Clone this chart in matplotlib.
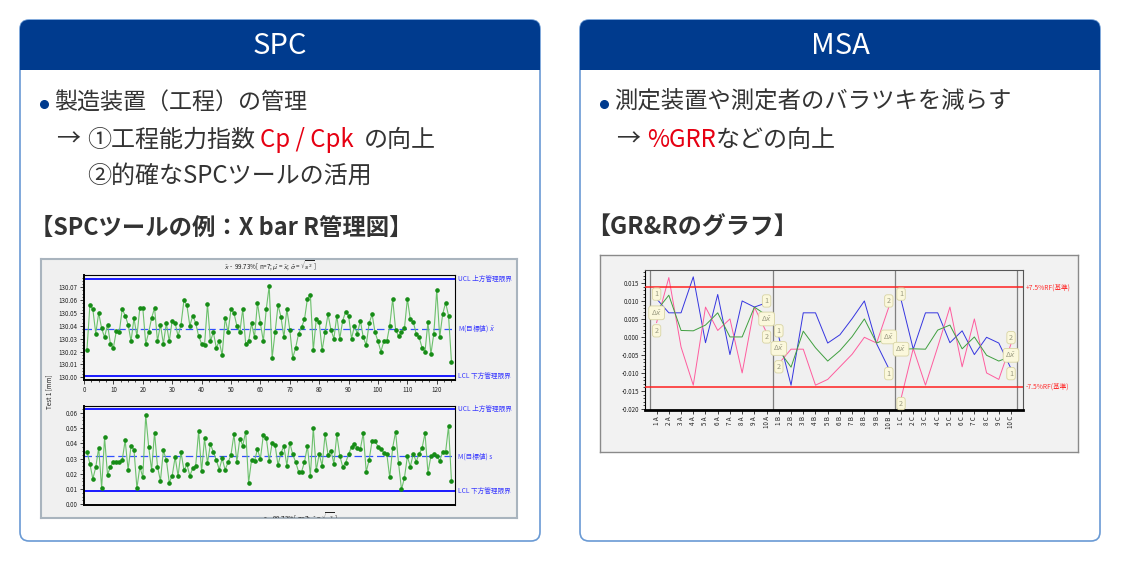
import numpy as np
import matplotlib
matplotlib.use('Agg')
import matplotlib.pyplot as plt
from matplotlib.patches import FancyBboxPatch, Rectangle
from matplotlib.ticker import MultipleLocator, FormatStrFormatter

plt.rcParams['font.family'] = ['Noto Sans CJK JP', 'DejaVu Sans']

W, H = 1121, 561

# --- X bar (上段) と s (下段) の値 ---
xbar = [130.021, 130.056, 130.053, 130.034, 130.050, 130.038, 130.031, 130.041, 130.026, 130.023,
        130.036, 130.035, 130.053, 130.048, 130.041, 130.028, 130.046, 130.032, 130.054, 130.054,
        130.026, 130.035, 130.046, 130.054, 130.028, 130.041, 130.026, 130.042, 130.028, 130.044,
        130.042, 130.032, 130.041, 130.060, 130.056, 130.040, 130.048, 130.042, 130.032, 130.026,
        130.025, 130.057, 130.028, 130.035, 130.023, 130.028, 130.017, 130.046, 130.035, 130.053,
        130.050, 130.040, 130.035, 130.053, 130.026, 130.028, 130.042, 130.031, 130.058, 130.042,
        130.028, 130.053, 130.071, 130.015, 130.035, 130.056, 130.047, 130.031, 130.053, 130.037,
        130.015, 130.023, 130.034, 130.039, 130.045, 130.061, 130.064, 130.021, 130.045, 130.043,
        130.021, 130.035, 130.049, 130.037, 130.030, 130.048, 130.030, 130.044, 130.051, 130.048,
        130.030, 130.040, 130.034, 130.044, 130.031, 130.025, 130.042, 130.049, 130.035, 130.028,
        130.020, 130.028, 130.028, 130.040, 130.061, 130.037, 130.032, 130.035, 130.038, 130.061,
        130.045, 130.043, 130.034, 130.031, 130.023, 130.020, 130.043, 130.018, 130.034, 130.068,
        130.031, 130.049, 130.058, 130.048, 130.012]
s_vals = [0.0346, 0.0267, 0.0166, 0.0243, 0.0370, 0.0105, 0.0439, 0.0194, 0.0247, 0.0280,
          0.0277, 0.0275, 0.0290, 0.0419, 0.0228, 0.0381, 0.0359, 0.0105, 0.0247, 0.0176,
          0.0585, 0.0378, 0.0224, 0.0471, 0.0247, 0.0153, 0.0353, 0.0292, 0.0142, 0.0187,
          0.0310, 0.0185, 0.0344, 0.0222, 0.0262, 0.0187, 0.0237, 0.0254, 0.0482, 0.0215,
          0.0432, 0.0271, 0.0394, 0.0344, 0.0290, 0.0228, 0.0301, 0.0226, 0.0275, 0.0325,
          0.0458, 0.0280, 0.0430, 0.0385, 0.0477, 0.0142, 0.0292, 0.0284, 0.0361, 0.0297,
          0.0454, 0.0437, 0.0284, 0.0400, 0.0387, 0.0256, 0.0338, 0.0381, 0.0254, 0.0404,
          0.0327, 0.0277, 0.0213, 0.0213, 0.0277, 0.0383, 0.0187, 0.0503, 0.0222, 0.0329,
          0.0252, 0.0458, 0.0325, 0.0351, 0.0267, 0.0458, 0.0320, 0.0245, 0.0273, 0.0327,
          0.0378, 0.0398, 0.0370, 0.0363, 0.0467, 0.0213, 0.0292, 0.0417, 0.0417, 0.0378,
          0.0363, 0.0338, 0.0331, 0.0176, 0.0372, 0.0475, 0.0269, 0.0097, 0.0174, 0.0314,
          0.0247, 0.0331, 0.0280, 0.0331, 0.0368, 0.0467, 0.0206, 0.0316, 0.0327, 0.0318,
          0.0284, 0.0344, 0.0342, 0.0512, 0.0153]
samples = np.arange(1, len(xbar) + 1)
x_ucl, x_cl, x_lcl = 130.0762, 130.0379, 130.0010
s_ucl, s_cl, s_lcl = 0.0624, 0.0314, 0.0088

# --- GR&R ---
parts = [f'{i} {g}' for g in 'ABC' for i in range(1, 11)]
op1 = [0.0106, 0.0067, 0.0067, 0.0167, -0.0016, 0.0118, -0.0049, 0.0100, 0.0083, 0.0095,
       0.0000, -0.0134, 0.0067, 0.0067, -0.0017, 0.0006, 0.0051, 0.0100, -0.0019, -0.0088,
       0.0104, -0.0034, 0.0067, 0.0067, -0.0016, 0.0017, -0.0049, -0.0001, -0.0017, -0.0088]
op2 = [0.0040, 0.0165, -0.0028, -0.0134, 0.0083, 0.0018, 0.0050, -0.0100, 0.0083, 0.0012,
       -0.0074, -0.0034, -0.0034, -0.0134, -0.0118, -0.0083, -0.0048, -0.0001, -0.0017, 0.0083,
       -0.0171, -0.0032, -0.0134, -0.0028, 0.0083, -0.0083, 0.0050, -0.0100, -0.0118, -0.0019]
avg = [0.0073, 0.0116, 0.0018, 0.0017, 0.0033, 0.0067, 0.0000, 0.0000, 0.0083, 0.0060,
       -0.0037, -0.0084, 0.0016, -0.0030, -0.0067, -0.0038, 0.0001, 0.0050, -0.0017, -0.0003,
       -0.0034, -0.0033, -0.0034, 0.0019, 0.0033, -0.0033, 0.0000, -0.0051, -0.0067, -0.0054]
rf = 0.0138

navy = '#003b8e'
txt = '#333333'
red = '#e60012'
body = 16.6
body2 = 17.3

fig = plt.figure(figsize=(W / 100, H / 100), dpi=100)
fig.patch.set_facecolor('white')
bg = fig.add_axes([0, 0, 1, 1])
bg.set_xlim(0, W)
bg.set_ylim(H, 0)
bg.axis('off')


def px(x0, y0, x1, y1):
    return [x0 / W, 1 - y1 / H, (x1 - x0) / W, (y1 - y0) / H]


# パネル
for x0, title in [(20, 'SPC'), (580, 'MSA')]:
    bg.add_patch(FancyBboxPatch((x0, 20), 520, 521, boxstyle='round,pad=0,rounding_size=9',
                                fc='white', ec='#6a9ad4', lw=1.2))
    bg.add_patch(FancyBboxPatch((x0, 20), 520, 50, boxstyle='round,pad=0,rounding_size=9',
                                fc=navy, ec='none'))
    bg.add_patch(Rectangle((x0, 50), 520, 20, fc=navy, ec='none'))
    bg.text(x0 + 260, 46, title, color='white', fontsize=21, ha='center', va='center')

r = fig.canvas.get_renderer()


def put(x, y, s, c=txt, size=body, weight='normal'):
    t = bg.text(x, y, s, color=c, fontsize=size, va='center', ha='left', fontweight=weight)
    return t.get_window_extent(r).x1


# SPC テキスト
bg.plot(44, 104, 'o', color=navy, ms=5.5)
put(54, 102, '製造装置（工程）の管理')
put(56, 140, '→', size=body2)
put(87, 140, '①工程能力指数', size=body2)
put(260, 140, 'Cp / Cpk', red, size=body2)
put(364, 140, 'の向上', size=body2)
put(87, 176, '②的確なSPCツールの活用', size=body2)
put(30.5, 228, '【SPCツールの例：X bar R管理図】', size=16.8, weight='bold')

# MSA テキスト
bg.plot(604, 104, 'o', color=navy, ms=5.5)
put(614, 102, '測定装置や測定者のバラツキを減らす', size=16.8)
put(616, 140, '→', size=body2)
xe = put(647, 140, '%GRR', red, size=body2)
put(xe, 140, 'などの向上', size=body2)
put(586.5, 228, '【GR&Rのグラフ】', size=17.3, weight='bold')

# ---------- X bar R 管理図 ----------
im1 = fig.add_axes(px(41, 259, 517, 518))
im1.set_facecolor('#f0f0f0')
im1.set_xlim(0, 476)
im1.set_ylim(259, 0)
im1.set_xticks([])
im1.set_yticks([])
for sp in im1.spines.values():
    sp.set_color('#a9b4be')
    sp.set_linewidth(1.5)
im1.text(229, 7, r'$\bar{x}$ -  99.73%[ n=7; $\hat{\mu}$ = $\bar{x}$; $\hat{\sigma}$ = $\sqrt{s^2}$ ]',
         fontsize=4.5, ha='center', va='center', color='#222')
im1.text(259, 258.5, r's -  99.73%[ n=7; $\hat{\sigma}$ = $\sqrt{s^2}$ ]',
         fontsize=4.5, ha='center', va='center', color='#222', clip_on=True)
im1.text(8, 133, 'Test 1 [mm]', fontsize=4.5, rotation=90, ha='center', va='center', color='#222')

lim_blue = '#1a1aff'
lab_blue = '#3a3aff'


def spc_axes(rect, vals, ucl, cl, lcl, ylim, major, fmt, mlabel):
    ax = fig.add_axes(rect)
    ax.set_facecolor('#f3f3f3')
    ax.plot(samples, vals, color='#6cc06c', lw=0.8, marker='o', ms=2.3,
            mfc='#168c16', mec='#168c16', zorder=3)
    ax.axhline(ucl, color=lim_blue, lw=1.4)
    ax.axhline(lcl, color=lim_blue, lw=1.4)
    ax.axhline(cl, color='#3050ff', lw=0.9, ls=(0, (6, 3)))
    ax.set_xlim(0, 126.2)
    ax.set_ylim(*ylim)
    ax.yaxis.set_major_locator(MultipleLocator(major))
    ax.yaxis.set_minor_locator(MultipleLocator(major / 4))
    ax.yaxis.set_major_formatter(FormatStrFormatter(fmt))
    ax.xaxis.set_major_locator(MultipleLocator(10))
    ax.xaxis.set_minor_locator(MultipleLocator(2.5))
    ax.tick_params(labelsize=4.5, length=3, width=0.6, pad=1.5, colors='#222')
    ax.tick_params(which='minor', length=1.6, width=0.5)
    for sp in ax.spines.values():
        sp.set_linewidth(0.8)
    ax.spines['left'].set_linewidth(1.4)
    ax.spines['bottom'].set_linewidth(1.4)
    for yv, lab in [(ucl, 'UCL 上方管理限界'), (cl, mlabel), (lcl, 'LCL 下方管理限界')]:
        ax.text(127.3, yv, lab, fontsize=4.8, color=lab_blue, va='center', ha='left', clip_on=False)
    return ax


ax1 = spc_axes(px(84, 275, 455, 380), xbar, x_ucl, x_cl, x_lcl, (129.9979, 130.0795), 0.01, '%.2f',
               r'M(目標値) $\bar{x}$')
ax2 = spc_axes(px(84, 406, 455, 505), s_vals, s_ucl, s_cl, s_lcl, (-0.0005, 0.0645), 0.01, '%.2f',
               'M(目標値) s')
ax2.tick_params(axis='x', which='both', bottom=False, labelbottom=False)

# ---------- GR&R グラフ ----------
im2 = fig.add_axes(px(600, 255, 1078, 452))
im2.set_facecolor('#f2f2f2')
im2.set_xticks([])
im2.set_yticks([])
for sp in im2.spines.values():
    sp.set_color('#8a8a8a')
    sp.set_linewidth(1.0)

ax3 = fig.add_axes(px(645, 270, 1023, 410))
ax3.set_facecolor('#f0f0f0')
xi = np.arange(len(parts))
for g in range(3):
    sl = slice(g * 10, g * 10 + 10)
    ax3.plot(xi[sl], op1[sl], color='#3535e0', lw=0.7, zorder=3)
    ax3.plot(xi[sl], op2[sl], color='#ff5c9e', lw=0.7, zorder=3)
    ax3.plot(xi[sl], avg[sl], color='#3f9f3f', lw=0.7, zorder=3)
for xv in [-0.5, 9.5, 19.5, 29.5]:
    ax3.axvline(xv, color='#808080', lw=0.9, zorder=2)
ax3.axhline(rf, color='#ff2020', lw=1.1, zorder=4)
ax3.axhline(-rf, color='#ff2020', lw=1.1, zorder=4)
ax3.set_xlim(-0.95, 29.98)
ax3.set_ylim(-0.0203, 0.0186)
ax3.yaxis.set_major_locator(MultipleLocator(0.005))
ax3.yaxis.set_minor_locator(MultipleLocator(0.001))
ax3.yaxis.set_major_formatter(FormatStrFormatter('%.3f'))
ax3.set_xticks(xi)
ax3.set_xticklabels(parts, rotation=90)
ax3.tick_params(labelsize=4.5, length=3, width=0.6, pad=1.5, colors='#222')
ax3.tick_params(which='minor', length=1.6, width=0.5)
for sp in ax3.spines.values():
    sp.set_color('#555555')
    sp.set_linewidth(0.8)
ax3.spines['bottom'].set_color('black')
ax3.spines['bottom'].set_linewidth(2.0)
ax3.spines['left'].set_color('black')
ax3.text(29.98 + 0.2, rf, '+7.5%RF(基準)', fontsize=4.8, color='#ff3030', va='center', ha='left', clip_on=False)
ax3.text(29.98 + 0.2, -rf, '-7.5%RF(基準)', fontsize=4.8, color='#ff3030', va='center', ha='left', clip_on=False)

# 端の番号ラベル
dx = r'$\Delta\bar{x}$'
tags = [(0, 0.0119, '1'), (0, 0.0067, dx), (0, 0.0017, '2'),
        (9, 0.0100, '1'), (9, 0.0050, dx), (9, 0.0000, '2'),
        (10, 0.0017, '1'), (10, -0.0032, dx), (10, -0.0083, '2'),
        (19, 0.0100, '2'), (19, 0.0000, dx), (19, -0.0102, '1'),
        (20, 0.0119, '1'), (20, -0.0034, dx), (20, -0.0185, '2'),
        (29, -0.0002, '2'), (29, -0.0051, dx), (29, -0.0102, '1')]
for xv, yv, lab in tags:
    ax3.text(xv, yv, lab, fontsize=5.2, color='#9a9a80', ha='center', va='center', zorder=5,
             bbox=dict(boxstyle='round,pad=0.3,rounding_size=0.35', fc='#fbf8dc', ec='#d8d4a4', lw=0.6))

bg.text(838, 441, '測定品番号 / 検査員 →', fontsize=5, color='#222', ha='center', va='center')
bg.text(611, 336, 'Characteristic 16.1 [mm] →', fontsize=5, color='#222', ha='center', va='center',
        rotation=90, family='DejaVu Sans')

fig.savefig('out.png', dpi=100, facecolor='white')
